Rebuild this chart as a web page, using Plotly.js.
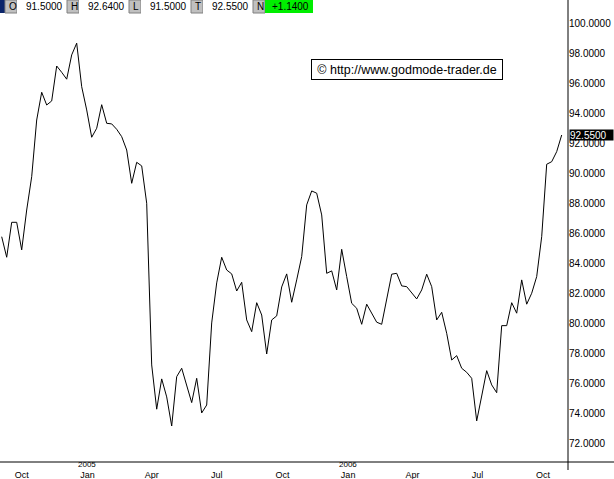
<!DOCTYPE html>
<html>
<head>
<meta charset="utf-8">
<script src="https://cdn.plot.ly/plotly-3.0.1.min.js"></script>
<style>
html,body{margin:0;padding:0;background:#fff;}
#chart{width:614px;height:479px;}
</style>
</head>
<body>
<div id="chart"></div>
<script>
// Weekly closing dates (Fridays)
const dates = [
 '2004-09-03','2004-09-10','2004-09-17','2004-09-24','2004-10-01','2004-10-08','2004-10-15','2004-10-22','2004-10-29',
 '2004-11-05','2004-11-12','2004-11-19','2004-11-26','2004-12-03','2004-12-10','2004-12-17','2004-12-24','2004-12-31',
 '2005-01-07','2005-01-14','2005-01-21','2005-01-28','2005-02-04','2005-02-11','2005-02-18','2005-02-25',
 '2005-03-04','2005-03-11','2005-03-18','2005-03-25','2005-04-01','2005-04-08','2005-04-15','2005-04-22','2005-04-29',
 '2005-05-06','2005-05-13','2005-05-20','2005-05-27','2005-06-03','2005-06-10','2005-06-17','2005-06-24',
 '2005-07-01','2005-07-08','2005-07-15','2005-07-22','2005-07-29','2005-08-05','2005-08-12','2005-08-19','2005-08-26',
 '2005-09-02','2005-09-09','2005-09-16','2005-09-23','2005-09-30','2005-10-07','2005-10-14','2005-10-21','2005-10-28',
 '2005-11-04','2005-11-11','2005-11-18','2005-11-25','2005-12-02','2005-12-09','2005-12-16','2005-12-23','2005-12-30',
 '2006-01-06','2006-01-13','2006-01-20','2006-01-27','2006-02-03','2006-02-10','2006-02-17','2006-02-24',
 '2006-03-03','2006-03-10','2006-03-17','2006-03-24','2006-03-31','2006-04-07','2006-04-14','2006-04-21','2006-04-28',
 '2006-05-05','2006-05-12','2006-05-19','2006-05-26','2006-06-02','2006-06-09','2006-06-16','2006-06-23','2006-06-30',
 '2006-07-07','2006-07-14','2006-07-21','2006-07-28','2006-08-04','2006-08-11','2006-08-18','2006-08-25',
 '2006-09-01','2006-09-08','2006-09-15','2006-09-22','2006-09-29','2006-10-06','2006-10-13','2006-10-20','2006-10-27'
];

// Weekly close values
const closes = [
 85.77,84.40,86.73,86.73,84.89,87.55,89.77,93.55,95.40,94.55,94.82,97.15,96.73,96.27,97.89,98.67,95.77,94.22,
 92.40,93.00,94.57,93.33,93.29,92.93,92.44,91.55,89.33,90.73,90.49,88.00,77.22,74.27,76.29,75.09,73.15,
 76.44,77.00,75.89,74.71,76.33,74.02,74.55,80.02,82.69,84.40,83.55,83.29,82.15,82.73,80.22,79.44,81.37,
 80.55,77.95,80.22,80.49,82.42,83.29,81.40,82.89,84.44,87.89,88.82,88.67,87.22,83.33,83.49,82.22,84.93,83.11,
 81.33,81.00,79.93,81.27,80.67,80.07,79.93,81.62,83.27,83.33,82.49,82.44,82.00,81.62,82.22,83.27,82.44,
 80.22,80.73,79.33,77.55,77.84,77.00,76.73,76.33,73.49,75.15,76.84,75.89,75.37,79.84,79.84,81.37,80.67,
 82.89,81.27,82.00,83.11,85.77,90.60,90.77,91.44,92.55
];

// X tick positions and labels
const xTickVals = ['2004-10-01','2005-01-01','2005-04-01','2005-07-01','2005-10-01','2006-01-01','2006-04-01','2006-07-01','2006-10-01'];
const xTickText = ['Oct','Jan','Apr','Jul','Oct','Jan','Apr','Jul','Oct'];
const yearVals = ['2005-01-01','2006-01-01'];
const yearText = ['2005','2006'];

// Header quote fields
const headerLabels = ['O','H','L','T','N'];
const headerValues = ['91.5000','92.6400','91.5000','92.5500','+1.1400'];
const lastValue = 92.55;
const copyrightText = '\u00A9 http://www.godmode-trader.de';

const W = 614, H = 479, PW = 568, PH = 462;
const px = v => v / PW;
const py = v => (PH - v) / PH;
const FONT = 'Liberation Sans, Arial, sans-serif';

const shapes = [];
const annotations = [];

// axis lines
shapes.push({type:'line', xref:'paper', yref:'paper', x0:0, x1:px(W), y0:0, y1:0, line:{color:'#000', width:1}});
shapes.push({type:'line', xref:'paper', yref:'paper', x0:1, x1:1, y0:py(470), y1:1, line:{color:'#000', width:1}});

// header bar
const hTop = 0, hBot = 13;
shapes.push({type:'rect', xref:'paper', yref:'paper', x0:px(0), x1:px(5), y0:py(hBot), y1:py(hTop), fillcolor:'#0a246a', line:{width:0}});
let x = 5;
headerLabels.forEach((lab, i) => {
  shapes.push({type:'rect', xref:'paper', yref:'paper', x0:px(x), x1:px(x+12), y0:py(hBot), y1:py(hTop), fillcolor:'#c0c0c0', line:{color:'#808080', width:1}});
  annotations.push({xref:'paper', yref:'paper', x:px(x+1.5), y:py(6.5), xanchor:'left', yanchor:'middle', text:lab, showarrow:false, font:{family:FONT, size:10, color:'#000'}});
  const isLast = i === headerLabels.length - 1;
  shapes.push({type:'rect', xref:'paper', yref:'paper', x0:px(x+12), x1:px(x+12+(isLast?48:50)), y0:py(hBot), y1:py(hTop), fillcolor: isLast ? '#00ee00' : '#ffffff', line:{width:0}});
  annotations.push({xref:'paper', yref:'paper', x:px(x+12+(isLast?48:50)-2), y:py(6.5), xanchor:'right', yanchor:'middle', text:headerValues[i], showarrow:false, font:{family:FONT, size:10, color:'#000'}});
  x += 62;
});

// copyright box
annotations.push({xref:'paper', yref:'paper', x:px(406.5), y:py(70), xanchor:'center', yanchor:'middle', text:copyrightText, showarrow:false,
  font:{family:FONT, size:12.5, color:'#000'}, bgcolor:'#fff', bordercolor:'#000', borderwidth:1, borderpad:2, width:186, height:15});

// last value marker
annotations.push({xref:'paper', yref:'y', x:px(569), y:lastValue, xanchor:'left', yanchor:'middle', text:lastValue.toFixed(4), showarrow:false,
  font:{family:FONT, size:10, color:'#fff'}, bgcolor:'#000', borderpad:0, width:43, height:10, align:'left'});

// year labels
yearVals.forEach((d, i) => {
  annotations.push({xref:'x', yref:'paper', x:d, y:py(464.5), xanchor:'center', yanchor:'middle', text:yearText[i], showarrow:false, font:{family:FONT, size:8, color:'#000'}});
});

const trace = {x:dates, y:closes, type:'scatter', mode:'lines', line:{color:'#000', width:1}, hoverinfo:'skip'};

const layout = {
  width:W, height:H,
  margin:{l:0, r:W-PW, t:0, b:H-PH, pad:0},
  paper_bgcolor:'#fff', plot_bgcolor:'#fff',
  showlegend:false,
  xaxis:{type:'date', range:['2004-08-31 15:00','2006-11-04 20:00'], tickvals:xTickVals, ticktext:xTickText,
    ticks:'', showgrid:false, showline:false, zeroline:false, tickangle:0, ticklabelstandoff:6,
    tickfont:{family:FONT, size:9, color:'#000'}},
  yaxis:{side:'right', range:[70.75, 101.55], tick0:0, dtick:2, tickformat:'.4f', ticks:'', showgrid:false, showline:false, zeroline:false,
    tickfont:{family:FONT, size:10, color:'#000'}},
  shapes:shapes, annotations:annotations
};

Plotly.newPlot('chart', [trace], layout, {staticPlot:true, displayModeBar:false});
</script>
</body>
</html>
